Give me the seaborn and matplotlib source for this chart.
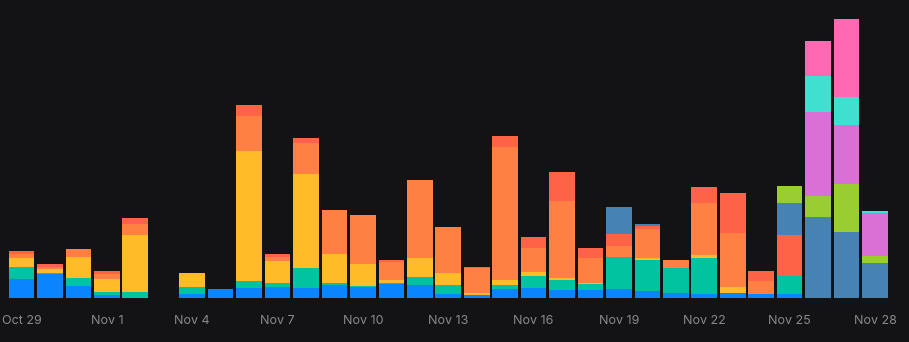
import matplotlib
matplotlib.use("Agg")
import matplotlib.pyplot as plt
import numpy as np
import pandas as pd
import seaborn as sns

# Days shown on the x axis (Nov 3 has no activity)
days = ["Oct 29", "Oct 30", "Oct 31"] + [f"Nov {d}" for d in range(1, 29)]
tick_days = days[::3]

# Stacked series, bottom to top
blue = [19, 24, 12, 2.7, 0, 0, 4, 9, 10.3, 10.7, 10.3, 12.7, 10.7, 13.7, 12.7, 4.4,
        3, 8.7, 10, 7.7, 7.7, 8.7, 6.7, 5.4, 4.4, 5, 4.4, 4, 0, 0, 0]
green = [12, 0.7, 8, 3.3, 5.7, 0, 7.3, 0, 6.7, 4.3, 20, 2.3, 1, 1.7, 8.3, 9,
         0.5, 4, 12.3, 10, 6.3, 32.3, 31.3, 25, 36, 0.5, 0, 18, 0, 0, 0]
yellow = [9, 4.5, 21, 13, 57, 0, 13.3, 0, 130.3, 22.3, 93.3, 29.3, 22, 2.3, 19, 11.7,
          2, 5, 3.7, 2.3, 1, 0, 1.7, 0, 2.3, 5.3, 0, 0, 0, 0, 0]
orange = [4, 1.5, 8, 4.7, 11.3, 0, 0, 0, 34.7, 3.3, 31.7, 43.3, 49, 18, 77.7, 46,
          24.7, 133.3, 24.3, 77.3, 25, 11.3, 29, 7.3, 52.3, 54, 12.6, 0, 0, 0, 0]
tomato = [3, 3.5, 0, 3, 5.7, 0, 0, 0, 11, 3, 5, 0, 0, 2, 0, 0,
          1.3, 11, 10.7, 28.7, 10, 11.3, 3.3, 0, 16, 40.6, 9.7, 41, 0, 0, 0]
steel = [0] * 21 + [27.7, 2, 0, 0, 0, 0, 32, 81, 65.7, 35]
lime = [0] * 27 + [17, 20.7, 48.3, 7.3]
orchid = [0] * 28 + [84.3, 59.3, 43]
turquoise = [0] * 28 + [35.7, 28, 2]
pink = [0] * 28 + [35.3, 77.7, 0]

series = [
    ("blue", blue, "#0A84FF"),
    ("green", green, "#00C49F"),
    ("yellow", yellow, "#FFBB28"),
    ("orange", orange, "#FF8042"),
    ("tomato", tomato, "#FF6347"),
    ("steel", steel, "#4682B4"),
    ("lime", lime, "#9ACD32"),
    ("orchid", orchid, "#DA70D6"),
    ("turquoise", turquoise, "#40E0D0"),
    ("pink", pink, "#FF69B4"),
]

bg = "#131315"
sns.set_theme(style="dark", rc={"axes.facecolor": bg, "figure.facecolor": bg})
plt.rcParams["font.family"] = ["Inter", "DejaVu Sans"]

fig = plt.figure(figsize=(9.09, 3.42), dpi=100)
ax = fig.add_axes([0, 44 / 342, 1, 298 / 342])

df = pd.DataFrame({name: vals for name, vals, _ in series})
df["day"] = days
cum = df[[s[0] for s in series]].cumsum(axis=1)

# Draw cumulative heights from the top layer down so each layer shows its own slice
for name, _, color in reversed(series):
    sns.barplot(x=df["day"], y=cum[name], order=days, color=color,
                saturation=1, width=0.9, errorbar=None, ax=ax, linewidth=0)

ax.set_xlim(-21.5 / 28.45, (909 - 21.5) / 28.45)
ax.set_ylim(0, 298)
ax.set_xlabel("")
ax.set_ylabel("")
ax.set_yticks([])
ax.set_xticks([days.index(d) for d in tick_days])
ax.set_xticklabels(tick_days, color="#8A8A8E", fontsize=9)
ax.tick_params(axis="x", length=0, pad=12)
ax.grid(False)
for sp in ax.spines.values():
    sp.set_visible(False)

fig.savefig("out.png", dpi=100, facecolor=bg)
